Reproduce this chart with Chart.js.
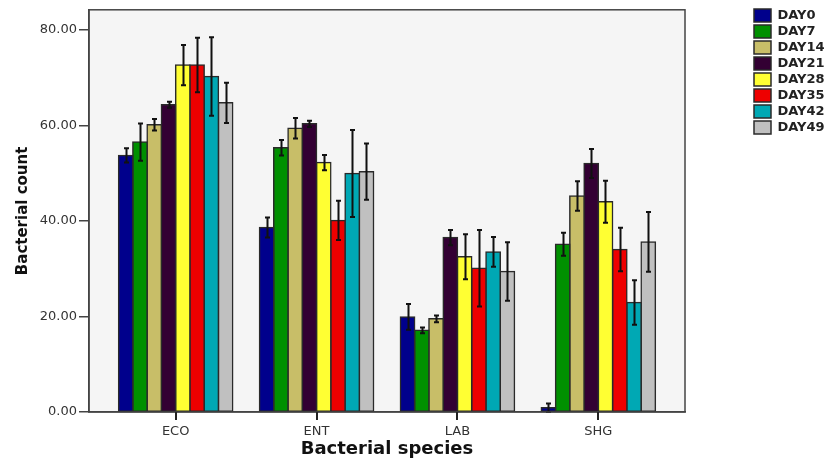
<!DOCTYPE html>
<html>
<head>
<meta charset="utf-8">
<script src="https://cdn.jsdelivr.net/npm/chart.js@4"></script>
<style>
  html, body { margin: 0; padding: 0; background: #fff; }
  #wrap { width: 831px; height: 463px; position: relative; }
</style>
</head>
<body>
<div id="wrap"><canvas id="barChart"></canvas></div>
<script>
// species on the x axis
var categories = ['ECO', 'ENT', 'LAB', 'SHG'];
var dayLabels = ['DAY0', 'DAY7', 'DAY14', 'DAY21', 'DAY28', 'DAY35', 'DAY42', 'DAY49'];
var yTicks = [0, 20, 40, 60, 80];

// mean bacterial count per day (ECO, ENT, LAB, SHG)
var day0 = [53.7, 38.6, 19.9, 0.9];
var day7 = [56.5, 55.3, 17.1, 35.1];
var day14 = [60.1, 59.4, 19.5, 45.2];
var day21 = [64.3, 60.3, 36.5, 52.0];
var day28 = [72.6, 52.2, 32.5, 44.0];
var day35 = [72.6, 40.1, 30.1, 34.0];
var day42 = [70.2, 49.9, 33.5, 22.9];
var day49 = [64.7, 50.3, 29.4, 35.6];

// error bar half-lengths
var day0Err = [1.5, 2.1, 2.7, 0.9];
var day7Err = [3.9, 1.6, 0.6, 2.4];
var day14Err = [1.2, 2.15, 0.7, 3.1];
var day21Err = [0.65, 0.65, 1.6, 3.05];
var day28Err = [4.2, 1.6, 4.7, 4.4];
var day35Err = [5.7, 4.1, 8.0, 4.55];
var day42Err = [8.2, 9.1, 3.1, 4.65];
var day49Err = [4.2, 5.9, 6.1, 6.25];

var seriesValues = [day0, day7, day14, day21, day28, day35, day42, day49];
var seriesErrors = [day0Err, day7Err, day14Err, day21Err, day28Err, day35Err, day42Err, day49Err];
var seriesColors = ['#00008c', '#009000', '#c8be68', '#330033', '#ffff33', '#ee0000', '#00a8b4', '#c0c0c0'];

var datasets = dayLabels.map(function(name, i) {
	return {
		label: name,
		data: seriesValues[i].map(function(v, j) { return { x: j, y: v }; }),
		errors: seriesErrors[i],
		backgroundColor: seriesColors[i],
		borderColor: '#2a2a2a',
		borderWidth: 1.5,
		borderSkipped: false,
		inflateAmount: 0.75,
		barPercentage: 1.0,
		categoryPercentage: 0.81
	};
});

// plot background, frame and category tick marks
var framePlugin = {
	id: 'frame',
	beforeDraw: function(chart) {
		var c = chart.ctx, a = chart.chartArea;
		c.save();
		c.fillStyle = '#ffffff';
		c.fillRect(0, 0, chart.width, chart.height);
		c.fillStyle = '#f5f5f5';
		c.fillRect(a.left, a.top, a.right - a.left, a.bottom - a.top);
		c.restore();
	},
	afterDraw: function(chart) {
		var c = chart.ctx, a = chart.chartArea;
		var xScale = chart.scales.x;
		c.save();
		c.strokeStyle = '#444';
		c.lineWidth = 1.5;
		c.strokeRect(a.left, a.top, a.right - a.left, a.bottom - a.top);
		c.strokeStyle = '#222';
		c.lineWidth = 2;
		categories.forEach(function(cat, i) {
			var x = Math.round(xScale.getPixelForValue(i));
			c.beginPath();
			c.moveTo(x, a.bottom);
			c.lineTo(x, a.bottom + 8);
			c.stroke();
		});
		c.restore();
	}
};

// error bars drawn from the y scale
var errorBarPlugin = {
	id: 'errorBars',
	afterDatasetsDraw: function(chart) {
		var c = chart.ctx;
		var yScale = chart.scales.y;
		c.save();
		c.strokeStyle = '#111';
		c.lineWidth = 2;
		chart.data.datasets.forEach(function(ds, i) {
			var meta = chart.getDatasetMeta(i);
			meta.data.forEach(function(bar, j) {
				var v = ds.data[j].y, e = ds.errors[j];
				var top = yScale.getPixelForValue(v + e);
				var bot = yScale.getPixelForValue(Math.max(v - e, 0));
				var x = Math.round(bar.x) + 0.5;
				c.beginPath();
				c.moveTo(x, top); c.lineTo(x, bot);
				c.moveTo(x - 2.5, top); c.lineTo(x + 2.5, top);
				c.moveTo(x - 2.5, bot); c.lineTo(x + 2.5, bot);
				c.stroke();
			});
		});
		c.restore();
	}
};

Chart.defaults.font.family = '"DejaVu Sans", sans-serif';
Chart.defaults.color = '#333';

new Chart(document.getElementById('barChart'), {
	type: 'bar',
	data: { datasets: datasets },
	options: {
		responsive: true,
		maintainAspectRatio: false,
		animation: false,
		layout: { padding: { top: 6, right: 0, bottom: 0, left: 0 } },
		plugins: {
			legend: {
				position: 'right',
				align: 'start',
				maxWidth: 80,
				labels: {
					boxWidth: 17,
					boxHeight: 13,
					padding: 3,
					color: '#222',
					font: { size: 13, weight: 'bold' }
				}
			},
			tooltip: { enabled: false }
		},
		scales: {
			x: {
				type: 'linear',
				min: -0.615,
				max: 3.615,
				bounds: 'data',
				offset: false,
				afterBuildTicks: function(s) { s.ticks = categories.map(function(c, i) { return { value: i }; }); },
				grid: { display: true, offset: false, drawOnChartArea: false, drawTicks: true, tickLength: 8, color: '#222', lineWidth: 2 },
				border: { display: true, color: '#444', width: 1.5 },
				ticks: {
					autoSkip: false,
					maxRotation: 0,
					padding: 4,
					font: { size: 13 },
					callback: function(v) { return categories[v] !== undefined ? categories[v] : ''; }
				},
				title: {
					display: true,
					text: 'Bacterial species',
					color: '#111',
					font: { size: 18, weight: 'bold' },
					padding: { top: 0, bottom: 3 }
				},
				afterFit: function(s) { s.height = 51; }
			},
			y: {
				min: 0,
				max: 84.17,
				grid: { display: true, drawOnChartArea: false, drawTicks: true, tickLength: 10, color: '#444', lineWidth: 1.5 },
				border: { display: true, color: '#444', width: 1.5 },
				afterBuildTicks: function(s) { s.ticks = yTicks.map(function(v) { return { value: v }; }); },
				ticks: {
					padding: 2,
					font: { size: 13 },
					callback: function(v) { return Number(v).toFixed(2); }
				},
				title: {
					display: true,
					text: 'Bacterial count',
					color: '#111',
					font: { size: 15, weight: 'bold' },
					padding: { top: 14, bottom: 0 }
				},
				afterFit: function(s) { s.width = 89; }
			},
			gap: {
				type: 'linear',
				position: 'right',
				display: true,
				grid: { display: false },
				border: { display: false },
				ticks: { display: false },
				afterFit: function(s) { s.width = 66; }
			}
		}
	},
	plugins: [framePlugin, errorBarPlugin]
});
</script>
</body>
</html>
